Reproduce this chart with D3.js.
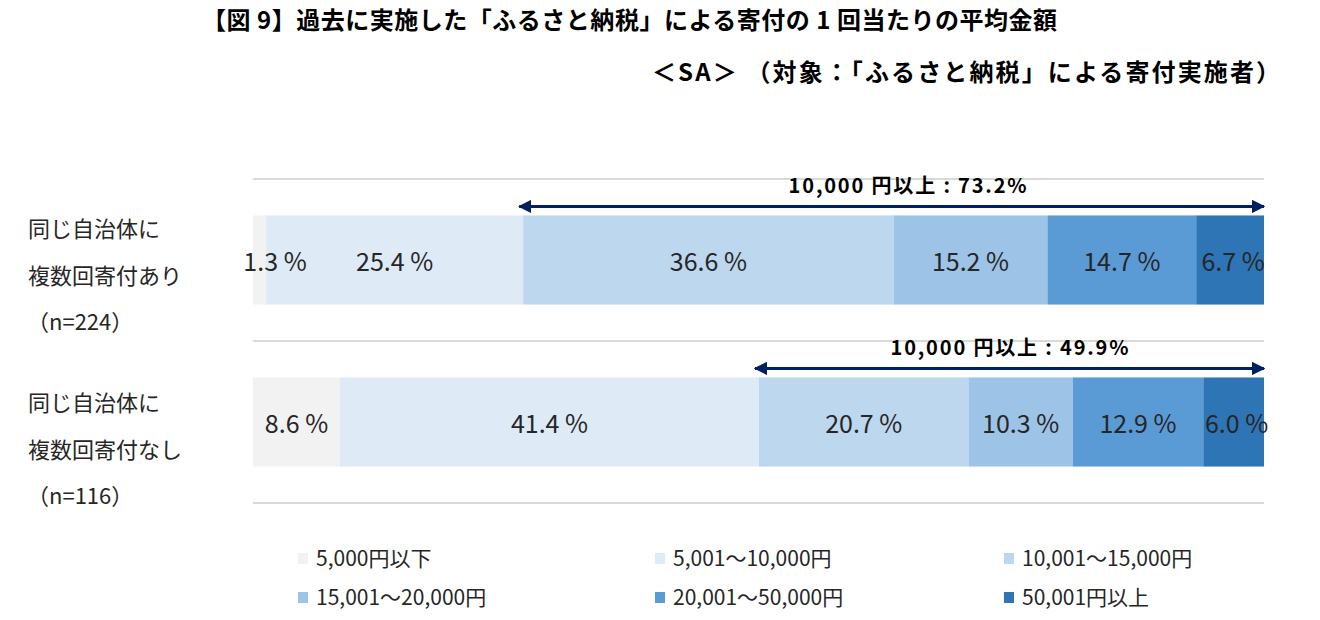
<!DOCTYPE html>
<html>
<head>
<meta charset="utf-8">
<script src="https://cdn.jsdelivr.net/npm/d3@7"></script>
<style>
  body { margin: 0; background: #fff; }
  svg text { font-family: "Noto Sans CJK JP", "Noto Sans", sans-serif; }
  .grid-line { stroke: #d9d9d9; stroke-width: 2; }
</style>
</head>
<body>
<div id="chart-container"></div>
<script>
// rows and their labels (each label is three lines)
var rows = ['row1', 'row2'];
var rowLabels = [
  ['同じ自治体に', '複数回寄付あり', '（n=224）'],
  ['同じ自治体に', '複数回寄付なし', '（n=116）']
];
var seriesNames = ['5,000円以下', '5,001～10,000円', '10,001～15,000円', '15,001～20,000円', '20,001～50,000円', '50,001円以上'];
var row1Values = [1.3, 25.4, 36.6, 15.2, 14.7, 6.7];
var row2Values = [8.6, 41.4, 20.7, 10.3, 12.9, 6.0];
var overLabels = ['10,000 円以上 : 73.2%', '10,000 円以上 : 49.9%'];
var colors = ['#f2f2f2', '#deeaf6', '#bdd7ee', '#9dc3e6', '#5b9bd5', '#2e75b6'];

var allValues = [row1Values, row2Values];

var W = 1320, H = 620;
var svg = d3.select("#chart-container")
  .append("svg")
  .attr("width", W)
  .attr("height", H);

// title
svg.append("text")
  .attr("x", 202).attr("y", 29)
  .attr("font-size", 24).attr("font-weight", "bold").attr("fill", "#000")
  .attr("textLength", 855).attr("lengthAdjust", "spacing")
  .text("【図 9】過去に実施した「ふるさと納税」による寄付の 1 回当たりの平均金額");
svg.append("text")
  .attr("x", 652).attr("y", 81)
  .attr("font-size", 24).attr("font-weight", "bold").attr("fill", "#000")
  .attr("textLength", 628).attr("lengthAdjust", "spacing")
  .text("＜SA＞ （対象：「ふるさと納税」による寄付実施者）");

var left = 253, right = 1264;
var padding = 0.45;

var xScale = d3.scaleLinear()
  .domain([0, d3.sum(row1Values)])
  .range([left, right]);

var yScale = d3.scaleBand()
  .domain(rows)
  .range([179, 503])
  .paddingInner(padding)
  .paddingOuter(padding / 2);

// gridlines at band edges
var gridYs = rows.map(function(r) { return yScale(r) - yScale.step() * padding / 2; });
gridYs.push(yScale.range()[1]);
svg.selectAll(".grid-line")
  .data(gridYs)
  .enter()
  .append("line")
  .attr("class", "grid-line")
  .attr("x1", left).attr("x2", right)
  .attr("y1", function(d) { return d; })
  .attr("y2", function(d) { return d; });

// arrow marker
var defs = svg.append("defs");
defs.append("marker")
  .attr("id", "arrowEnd")
  .attr("viewBox", "0 0 10 10")
  .attr("refX", 9).attr("refY", 5)
  .attr("markerWidth", 4.5).attr("markerHeight", 4.5)
  .attr("markerUnits", "strokeWidth")
  .attr("orient", "auto-start-reverse")
  .append("path")
  .attr("d", "M0,0 L10,5 L0,10 z")
  .attr("fill", "#002060");

// first category line offset from band top, per row
var catTop = [50, 62];

rows.forEach(function(r, ri) {
  var vals = allValues[ri];
  var x0s = [];
  var acc = 0;
  vals.forEach(function(v) { x0s.push(acc); acc += v; });
  var xs = xScale.copy().domain([0, acc]);
  var top = yScale(r);
  var bw = yScale.bandwidth();
  var bandTop = top - yScale.step() * padding / 2;

  var g = svg.append("g").attr("class", "row");

  g.selectAll("rect")
    .data(vals)
    .enter()
    .append("rect")
    .attr("x", function(d, i) { return xs(x0s[i]); })
    .attr("y", top)
    .attr("width", function(d, i) { return xs(x0s[i] + d) - xs(x0s[i]); })
    .attr("height", bw)
    .attr("fill", function(d, i) { return colors[i]; });

  g.selectAll("text.val")
    .data(vals)
    .enter()
    .append("text")
    .attr("class", "val")
    .attr("font-size", 25)
    .attr("fill", "#262626")
    .attr("text-anchor", "middle")
    .attr("y", top + bw / 2 + 11)
    .attr("x", function(d, i) {
      var a = xs(x0s[i]), b = xs(x0s[i] + d);
      var c = (a + b) / 2;
      // tiny first segment: keep the label from spilling too far left
      return i === 0 ? Math.max(c, a + 22) : c + (i === vals.length - 1 ? 3 : 0);
    })
    .text(function(d) { return d.toFixed(1) + " %"; });

  // 10,000円以上 arrow
  var ax1 = xs(x0s[2]) - 6, ax2 = xs(acc) + 2;
  g.append("line")
    .attr("x1", ax1 + 2).attr("x2", ax2 - 2)
    .attr("y1", top - 9).attr("y2", top - 9)
    .attr("stroke", "#002060").attr("stroke-width", 3)
    .attr("marker-start", "url(#arrowEnd)")
    .attr("marker-end", "url(#arrowEnd)");
  g.append("text")
    .attr("x", (ax1 + ax2) / 2 + (ri === 0 ? 16 : 0))
    .attr("y", top - 22)
    .attr("text-anchor", "middle")
    .attr("font-size", 20).attr("font-weight", "bold").attr("fill", "#000")
    .attr("textLength", 238).attr("lengthAdjust", "spacing")
    .text(overLabels[ri]);

  // category labels
  g.selectAll("text.cat")
    .data(rowLabels[ri])
    .enter()
    .append("text")
    .attr("class", "cat")
    .attr("x", function(d, i) { return i === 2 ? 27 : 28; })
    .attr("y", function(d, i) { return bandTop + catTop[ri] + i * 46.5 + 8; })
    .attr("font-size", 22)
    .attr("fill", "#262626")
    .text(function(d) { return d; });
});

// legend, 3 columns x 2 rows
var legendCols = [298, 655, 1004];
var legendRows = [558, 597];
var legend = svg.selectAll("g.legend")
  .data(seriesNames)
  .enter()
  .append("g")
  .attr("class", "legend")
  .attr("transform", function(d, i) {
    return "translate(" + legendCols[i % 3] + "," + legendRows[Math.floor(i / 3)] + ")";
  });
legend.append("rect")
  .attr("x", 0).attr("y", -5)
  .attr("width", 10).attr("height", 11)
  .attr("fill", function(d, i) { return colors[i]; });
legend.append("text")
  .attr("x", 18).attr("y", 8)
  .attr("font-size", 21)
  .attr("fill", "#262626")
  .text(function(d) { return d; });
</script>
</body>
</html>
